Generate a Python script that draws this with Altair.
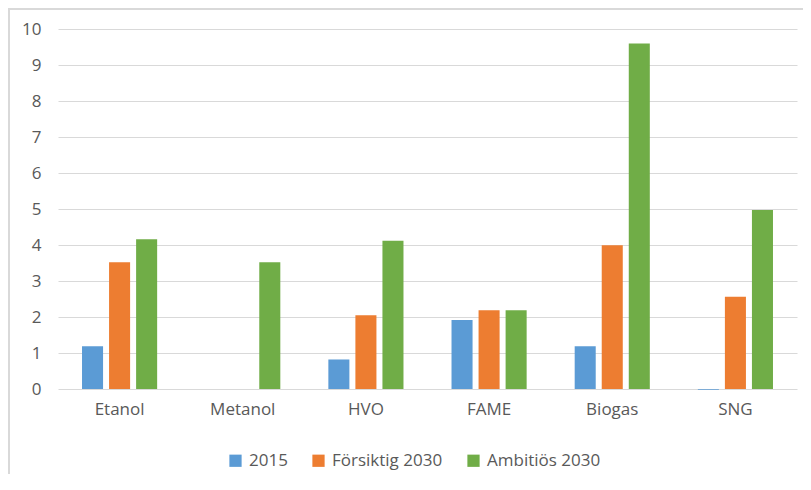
import altair as alt
import pandas as pd

categories = ["Etanol", "Metanol", "HVO", "FAME", "Biogas", "SNG"]
series = ["2015", "Försiktig 2030", "Ambitiös 2030"]
v2015 = [1.19, 0.0, 0.82, 1.92, 1.19, -0.02]
vfors = [3.52, 0.0, 2.05, 2.19, 3.99, 2.56]
vambi = [4.16, 3.52, 4.12, 2.19, 9.6, 4.97]
colors = ["#5B9BD5", "#ED7D31", "#70AD47"]
y_ticks = list(range(0, 11))

rows = []
for s, vals in zip(series, [v2015, vfors, vambi]):
    for c, v in zip(categories, vals):
        rows.append({"cat": c, "series": s, "value": v})
df = pd.DataFrame(rows)

FONT = "Open Sans"
TXT = "#595959"
FS = 17

bars = alt.Chart(df).mark_bar().encode(
    x=alt.X("cat:N", sort=categories, title=None,
            scale=alt.Scale(paddingInner=0.39, paddingOuter=0.195),
            axis=alt.Axis(labelAngle=0, domain=False, ticks=False, grid=False, labelPadding=12,
                          labelFontSize=FS, labelColor=TXT, labelFont=FONT)),
    xOffset=alt.XOffset("series:N", sort=series, scale=alt.Scale(paddingInner=0.222)),
    y=alt.Y("value:Q", title=None, scale=alt.Scale(domain=[0, 10], nice=False),
            axis=alt.Axis(values=y_ticks, domain=False, ticks=False, grid=True, labelPadding=17,
                          labelFontSize=FS, labelColor=TXT, labelFont=FONT,
                          gridColor="#D9D9D9", gridWidth=1)),
    color=alt.Color("series:N", sort=series, title=None,
                    scale=alt.Scale(domain=series, range=colors),
                    legend=alt.Legend(orient="none", legendX=169, legendY=423,
                                      direction="horizontal", symbolType="square",
                                      symbolSize=150, symbolStrokeWidth=0,
                                      labelFontSize=FS, labelColor=TXT, labelFont=FONT,
                                      columnPadding=22, labelOffset=5)),
)

border = alt.Chart(alt.Data(values=[{}])).mark_rule(color="#D9D9D9", strokeWidth=2)
left_line = border.encode(x=alt.value(-49), y=alt.value(-21), y2=alt.value(460))
top_line = border.encode(x=alt.value(-49), x2=alt.value(745), y=alt.value(-20))

chart = alt.layer(bars, left_line, top_line).properties(
    width=739, height=360,
    autosize=alt.AutoSizeParams(type="none"),
    padding={"left": 50, "top": 21, "right": 6, "bottom": 85},
).configure_view(stroke=None)

chart.save("out.html", embed_options={"renderer": "svg", "actions": False})
